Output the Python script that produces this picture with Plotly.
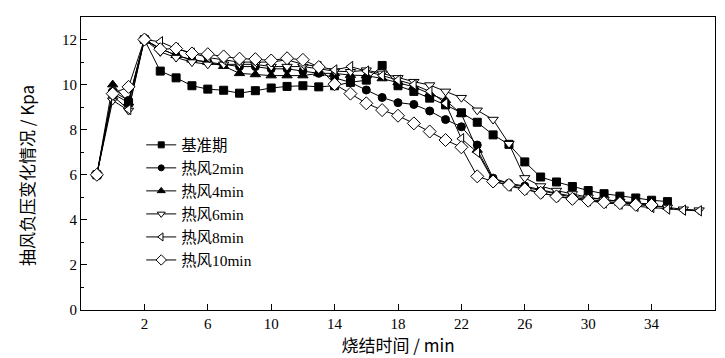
import plotly.graph_objects as go

x_vals = list(range(-1, 38))

base = [6.0, 9.6, 9.2, 12.0, 10.6, 10.3, 9.95, 9.8, 9.75, 9.62, 9.73, 9.85, 9.92, 9.95, 9.9,
        9.95, 10.1, 10.2, 10.85, 9.95, 9.7, 9.4, 9.1, 8.75, 8.33, 7.77, 7.35, 6.57, 5.9, 5.68,
        5.48, 5.3, 5.16, 5.05, 4.97, 4.87, 4.81]
hw2 = [6.0, 9.7, 9.3, 12.0, 11.6, 11.3, 11.1, 11.0, 10.9, 10.8, 10.8, 10.7, 10.7, 10.6, 10.5,
       10.3, 10.1, 9.76, 9.43, 9.2, 9.12, 8.83, 8.45, 8.13, 7.32, 5.85, 5.62, 5.5, 5.33, 5.18,
       5.05, 4.97, 4.88, 4.82, 4.75, 4.7]
hw4 = [6.0, 10.0, 9.2, 12.0, 11.6, 11.3, 11.1, 11.0, 10.82, 10.5, 10.45, 10.4, 10.4, 10.4, 10.5,
       10.5, 10.42, 10.4, 10.27, 10.1, 9.9, 9.6, 9.3, 8.7, 7.1, 5.8, 5.6, 5.45, 5.3, 5.15,
       5.0, 4.9, 4.82, 4.75, 4.7, 4.62, 4.58]
hw6 = [6.0, 9.3, 8.85, 12.0, 11.45, 11.2, 11.0, 10.9, 10.9, 10.9, 10.9, 10.8, 10.8, 10.8, 10.7,
       10.6, 10.57, 10.64, 10.5, 10.3, 10.13, 9.98, 9.7, 9.42, 8.86, 8.45, 7.38, 5.86, 5.5, 5.3,
       5.15, 5.0, 4.9, 4.8, 4.7, 4.62, 4.55, 4.47, 4.43]
hw8 = [6.0, 9.5, 8.9, 12.0, 11.9, 11.6, 11.4, 11.2, 11.1, 11.0, 11.0, 11.0, 11.1, 10.9, 10.8,
       10.65, 10.8, 10.6, 10.4, 10.2, 10.0, 9.7, 9.17, 7.6, 7.0, 5.75, 5.5, 5.35, 5.2, 5.05,
       4.95, 4.85, 4.75, 4.7, 4.6, 4.55, 4.48, 4.43, 4.4]
hw10 = [6.0, 9.6, 9.9, 12.0, 11.57, 11.6, 11.38, 11.35, 11.25, 11.15, 11.13, 11.07, 11.17, 11.1,
        10.78, 10.02, 9.6, 9.17, 8.87, 8.62, 8.28, 7.92, 7.54, 7.22, 5.93, 5.7, 5.55, 5.36, 5.2,
        5.04, 4.93, 4.85, 4.78, 4.74, 4.67, 4.66]

series = [
    ("基准期", base, "square", "black", 8),
    ("热风2min", hw2, "circle", "black", 8),
    ("热风4min", hw4, "triangle-up", "black", 9),
    ("热风6min", hw6, "triangle-down", "white", 9),
    ("热风8min", hw8, "triangle-left", "white", 9),
    ("热风10min", hw10, "diamond", "white", 10),
]

x_ticks = [2, 6, 10, 14, 18, 22, 26, 30, 34]
y_ticks = [0, 2, 4, 6, 8, 10, 12]

fig = go.Figure()
for name, vals, sym, fill, sz in series:
    fig.add_trace(go.Scatter(
        x=x_vals[:len(vals)], y=vals, name=name, mode="lines+markers", showlegend=False,
        line=dict(color="black", width=1),
        marker=dict(symbol=sym, size=sz, color=fill, line=dict(color="black", width=1)),
    ))
# legend entries (smaller markers, as in the reference legend)
for name, vals, sym, fill, sz in series:
    fig.add_trace(go.Scatter(
        x=[None], y=[None], name=name, mode="lines+markers",
        line=dict(color="black", width=1),
        marker=dict(symbol=sym, size=sz - 2, color=fill, line=dict(color="black", width=1)),
    ))

fig.update_layout(
    width=725, height=358,
    margin=dict(l=73, r=18, t=9, b=56),
    paper_bgcolor="white", plot_bgcolor="white",
    font=dict(family="Liberation Serif, Noto Sans CJK SC", size=15, color="black"),
    legend=dict(x=0.095, y=0.62, xanchor="left", yanchor="top", bgcolor="rgba(0,0,0,0)",
                font=dict(family="Liberation Serif, Noto Sans CJK SC", size=15.4),
                tracegroupgap=0, itemsizing="trace"),
    showlegend=True,
    annotations=[dict(
        text="抽风负压变化情况 / Kpa", textangle=-90, xref="paper", yref="paper",
        x=-0.087, y=0.46, xanchor="center", yanchor="middle", showarrow=False,
        font=dict(family="Noto Sans CJK SC", size=17, color="black"),
    )],
)
fig.update_xaxes(
    range=[-2, 38], tickvals=x_ticks, ticks="inside", ticklen=6, tickcolor="black",
    showline=True, linecolor="black", linewidth=1, mirror=True, showgrid=False, zeroline=False,
    title=dict(text="烧结时间 / min", font=dict(family="Noto Sans CJK SC", size=17), standoff=8),
    tickfont=dict(family="Liberation Serif", size=15),
)
fig.update_yaxes(
    range=[0, 13], tickvals=y_ticks, ticks="inside", ticklen=6, tickcolor="black",
    minor=dict(dtick=1, ticks="inside", ticklen=3, tickcolor="black"),
    showline=True, linecolor="black", linewidth=1, mirror=True, showgrid=False, zeroline=False,
    tickfont=dict(family="Liberation Serif", size=15),
)

fig.write_html("out.html")
